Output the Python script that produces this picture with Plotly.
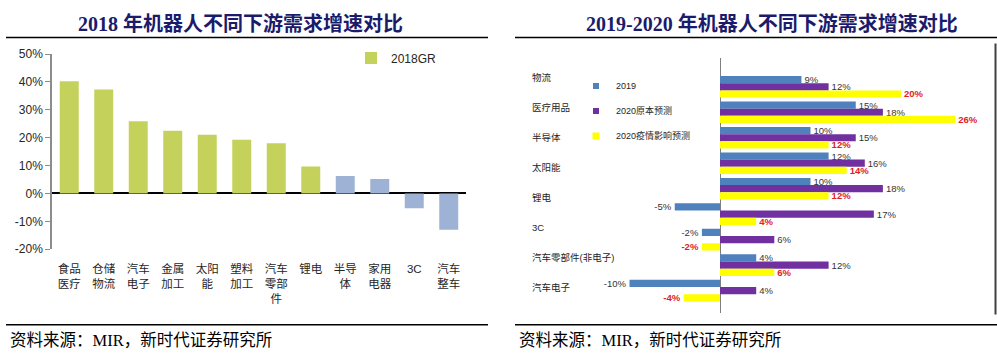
import plotly.graph_objects as go

W, H = 997, 362

# ---------------- data: left chart ----------------
cats_2018 = ["食品<br>医疗", "仓储<br>物流", "汽车<br>电子", "金属<br>加工", "太阳<br>能", "塑料<br>加工",
             "汽车<br>零部<br>件", "锂电", "半导<br>体", "家用<br>电器", "3C", "汽车<br>整车"]
gr_2018 = [40.3, 37.3, 25.9, 22.5, 21.1, 19.3, 18.0, 9.7, 6.3, 5.2, -5.3, -13.0]
left_ticks = [-20, -10, 0, 10, 20, 30, 40, 50]

# ---------------- data: right chart ----------------
right_labels = ["物流", "医疗用品", "半导体", "太阳能", "锂电", "3C", "汽车零部件(非电子)", "汽车电子"]
groups = list(range(9))
v2019 = [9, 15, 10, 12, 10, -5, -2, 4, -10]
v2020_orig = [12, 18, 15, 16, 18, 17, 6, 12, 4]
v2020_covid = [20, 26, 12, 14, 12, 4, -2, 6, -4]
series_names = ["2019", "2020原本预测", "2020疫情影响预测"]

# ---------------- styles ----------------
GREEN = "#C4D25B"
LBLUE = "#9DB2D4"
BLUE = "#4F81BD"
PURPLE = "#7030A0"
YELLOW = "#FFFF00"
RED = "#E0201E"
NAVY = "#1B1B6B"
SANS = "Liberation Sans, Noto Sans CJK SC, sans-serif"
SERIF = "Liberation Serif, Noto Sans CJK SC, serif"


def px_x(p):
    return p / W


def px_y(p):
    return 1 - p / H


fig = go.Figure()

# left bars
n_green = 8
fig.add_trace(go.Bar(
    x=cats_2018, y=gr_2018, name="2018GR",
    marker=dict(color=[GREEN if i < n_green else LBLUE for i in range(len(gr_2018))], line=dict(width=0)),
    width=0.55, xaxis="x", yaxis="y", legend="legend", hoverinfo="skip",
))

# right bars
bar_w = 0.283
series = [v2019, v2020_orig, v2020_covid]
colors = [BLUE, PURPLE, YELLOW]
for i, (vals, nm, col) in enumerate(zip(series, series_names, colors)):
    is_red = i == 2
    fig.add_trace(go.Bar(
        y=groups, x=vals, orientation="h", name=nm,
        marker=dict(color=col, line=dict(width=0)),
        width=bar_w, offset=-1.5 * bar_w + i * bar_w,
        text=[f"{v}%" for v in vals], texttemplate="%{text}", textposition="outside",
        textfont=dict(family=SANS, size=9.5, color=RED if is_red else "#333333",
                      weight="bold" if is_red else "normal"),
        constraintext="none", cliponaxis=False,
        xaxis="x2", yaxis="y2", showlegend=False, hoverinfo="skip",
    ))
    # legend entry (small square)
    fig.add_trace(go.Scatter(
        x=[None], y=[None], mode="markers", name=nm,
        marker=dict(symbol="square", size=6 if i < 2 else 7, color=col),
        xaxis="x2", yaxis="y2", legend="legend2", legendgroup=nm,
    ))

# category labels of right chart on an overlaid axis
fig.add_trace(go.Scatter(
    x=[0] * len(right_labels), y=right_labels, mode="markers",
    marker=dict(opacity=0), xaxis="x2", yaxis="y3", showlegend=False, hoverinfo="skip",
))

# ---------------- layout ----------------
l_dom = [px_y(252), px_y(49)]
r_dom = [px_y(318), px_y(53)]
zero_px, scale = 720, 9.05
rx0, rx1 = 560, 990
g0_px, g_pitch = 83, 26.5
lab0_px, lab_pitch = 73, 31.3

fig.update_layout(
    width=W, height=H, margin=dict(l=0, r=0, t=0, b=0),
    paper_bgcolor="white", plot_bgcolor="white",
    barmode="overlay", showlegend=True,
    font=dict(family=SANS, color="#262626"),
    xaxis=dict(domain=[px_x(52), px_x(466)], showgrid=False, zeroline=False, showline=False,
               ticks="outside", ticklen=9, tickcolor="rgba(0,0,0,0)",
               tickfont=dict(size=11.5, color="#262626"), anchor="y", fixedrange=True),
    yaxis=dict(domain=l_dom, range=[-20, 50], showgrid=False,
               zeroline=True, zerolinecolor="black", zerolinewidth=1.5,
               showline=True, linecolor="#8C8C8C", linewidth=1.5,
               ticks="outside", ticklen=5, tickcolor="#8C8C8C",
               tickvals=left_ticks, ticktext=[f"{v}%" for v in left_ticks],
               tickfont=dict(size=12, color="#262626"), anchor="x", fixedrange=True),
    xaxis2=dict(domain=[px_x(rx0), px_x(rx1)],
                range=[-(zero_px - rx0) / scale, (rx1 - zero_px) / scale],
                showgrid=False, showline=False, showticklabels=False, ticks="",
                zeroline=True, zerolinecolor="#7F7F7F", zerolinewidth=1.2, anchor="y2", fixedrange=True),
    yaxis2=dict(domain=r_dom,
                range=[(318 - g0_px) / g_pitch, (53 - g0_px) / g_pitch],
                showgrid=False, showline=False, showticklabels=False, ticks="", zeroline=False,
                anchor="x2", fixedrange=True),
    yaxis3=dict(overlaying="y2", anchor="free", position=px_x(528), type="category",
                range=[(318 - lab0_px) / lab_pitch, (53 - lab0_px) / lab_pitch],
                showgrid=False, showline=False, zeroline=False, ticks="",
                ticklabelposition="inside", tickfont=dict(size=9.5, color="#262626"),
                fixedrange=True),
    legend=dict(x=px_x(351), y=px_y(53), xanchor="left", yanchor="middle",
                font=dict(size=12, color="#262626"), bgcolor="rgba(0,0,0,0)"),
    legend2=dict(x=px_x(576), y=px_y(67), xanchor="left", yanchor="top",
                 font=dict(size=9, color="#262626"), bgcolor="rgba(0,0,0,0)",
                 tracegroupgap=6, traceorder="grouped"),
)

# titles, rules, footers
for cx, txt in [(240, "2018 年机器人不同下游需求增速对比"), (772, "2019-2020 年机器人不同下游需求增速对比")]:
    fig.add_annotation(x=px_x(cx), y=px_y(17), xref="paper", yref="paper", text=f"<b>{txt}</b>",
                       showarrow=False, xanchor="center", yanchor="middle",
                       font=dict(family=SERIF, size=20, color=NAVY))
for x0f in (8, 517):
    fig.add_annotation(x=px_x(x0f), y=px_y(347), xref="paper", yref="paper",
                       text="资料来源：MIR，新时代证券研究所", showarrow=False,
                       xanchor="left", yanchor="middle", font=dict(family=SERIF, size=16.5, color="black"))

for (xa, xb) in [(6, 488), (515, 997)]:
    for yy in (31.7, 330.5):
        fig.add_shape(type="line", xref="paper", yref="paper", x0=px_x(xa), x1=px_x(xb),
                      y0=px_y(yy), y1=px_y(yy), line=dict(color="black", width=1.5))
fig.add_shape(type="line", xref="paper", yref="paper", x0=px_x(995.5), x1=px_x(995.5),
              y0=px_y(38), y1=px_y(320), line=dict(color="#404040", width=2))

fig.write_html("out.html", config={"displayModeBar": False},
               post_script="document.body.style.margin='0';document.body.style.overflow='hidden';")
